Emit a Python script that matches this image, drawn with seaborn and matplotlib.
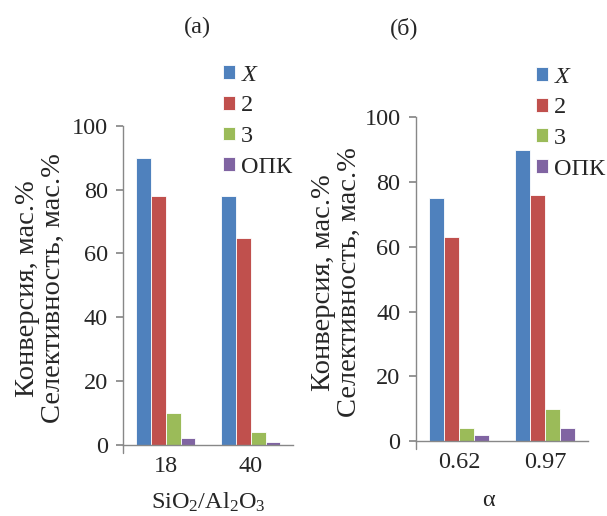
import matplotlib
matplotlib.use("Agg")
import matplotlib.pyplot as plt
from matplotlib.font_manager import FontProperties
import seaborn as sns
import pandas as pd

# data
series = ["X", "2", "3", "ОПК"]
ratio_labels = ["18", "40"]
ratio_values = {
    "X": [90, 78],
    "2": [78, 65],
    "3": [10, 4],
    "ОПК": [2, 1],
}
alpha_labels = ["0.62", "0.97"]
alpha_values = {
    "X": [75, 90],
    "2": [63, 76],
    "3": [4, 10],
    "ОПК": [2, 4],
}
colors = ["#4f81bd", "#c0504d", "#9bbb59", "#8064a2"]
legend_names = ["$\\it{X}$", "2", "3", "ОПК"]


def to_frame(labels, values):
    rows = []
    for s in series:
        for lab, v in zip(labels, values[s]):
            rows.append({"cat": lab, "series": s, "value": v})
    return pd.DataFrame(rows)


sns.set_theme(style="white")
FAM = "Liberation Serif"
plt.rcParams["font.family"] = "serif"
plt.rcParams["font.serif"] = [FAM]
plt.rcParams["mathtext.fontset"] = "custom"
plt.rcParams["mathtext.it"] = FAM + ":italic"
plt.rcParams["mathtext.rm"] = FAM

prop = FontProperties(family=FAM, size=17.5)
yprop = FontProperties(family=FAM, size=20.5)

fig = plt.figure(figsize=(6.07, 5.16), dpi=100)
ax1 = fig.add_axes([0.203, 0.138, 0.280, 0.618])
ax2 = fig.add_axes([0.685, 0.145, 0.284, 0.628])

ylabel = "Конверсия, мас.%\nСелективность, мас.%"

panels = [
    (ax1, ratio_labels, ratio_values, "SiO$_2$/Al$_2$O$_3$",
     0.585, 1.192, -0.335, (0.50, -0.145)),
    (ax2, alpha_labels, alpha_values, "α",
     0.695, 1.156, -0.31, (0.42, -0.152)),
]

for ax, labels, values, xlabel, leg_x, leg_y, ylab_x, xlab_xy in panels:
    df = to_frame(labels, values)
    sns.barplot(data=df, x="cat", y="value", hue="series", hue_order=series,
                palette=colors, saturation=1, width=0.70, ax=ax,
                edgecolor="white", linewidth=0.6, legend=True)
    ax.set_ylim(0, 100)
    ax.set_xlim(-0.5, 1.5)
    ax.set_yticks([0, 20, 40, 60, 80, 100])
    ax.set_yticklabels(["0", "20", "40", "60", "80", "100"], fontproperties=prop)
    ax.tick_params(axis="y", length=5, color="#888888",
                   direction="out", left=True, pad=6)
    ax.tick_params(axis="x", length=0, pad=8)
    ax.set_xticks([0, 1])
    ax.set_xticklabels(labels, fontproperties=prop)
    ax.set_xlabel(xlabel, fontproperties=prop, va="top")
    ax.xaxis.set_label_coords(*xlab_xy)
    ax.set_ylabel(ylabel, fontproperties=yprop, linespacing=1.08)
    ax.yaxis.set_label_coords(ylab_x, 0.49)
    for side in ["top", "right"]:
        ax.spines[side].set_visible(False)
    for side in ["left", "bottom"]:
        ax.spines[side].set_color("#888888")
        ax.spines[side].set_linewidth(1.0)
    ax.axvline(-0.5, ymin=-0.025, ymax=0, color="#888888", lw=1.0,
               clip_on=False)
    handles, _ = ax.get_legend_handles_labels()
    ax.legend(handles, legend_names, loc="upper left",
              bbox_to_anchor=(leg_x, leg_y), frameon=False, prop=prop,
              handlelength=0.5, handleheight=0.5, handletextpad=0.25,
              labelspacing=0.4, borderaxespad=0, borderpad=0)

fig.text(0.326, 0.946, "(а)", fontproperties=prop, ha="center", va="center")
fig.text(0.666, 0.946, "(б)", fontproperties=prop, ha="center", va="center")

fig.savefig("out.png", dpi=100)
